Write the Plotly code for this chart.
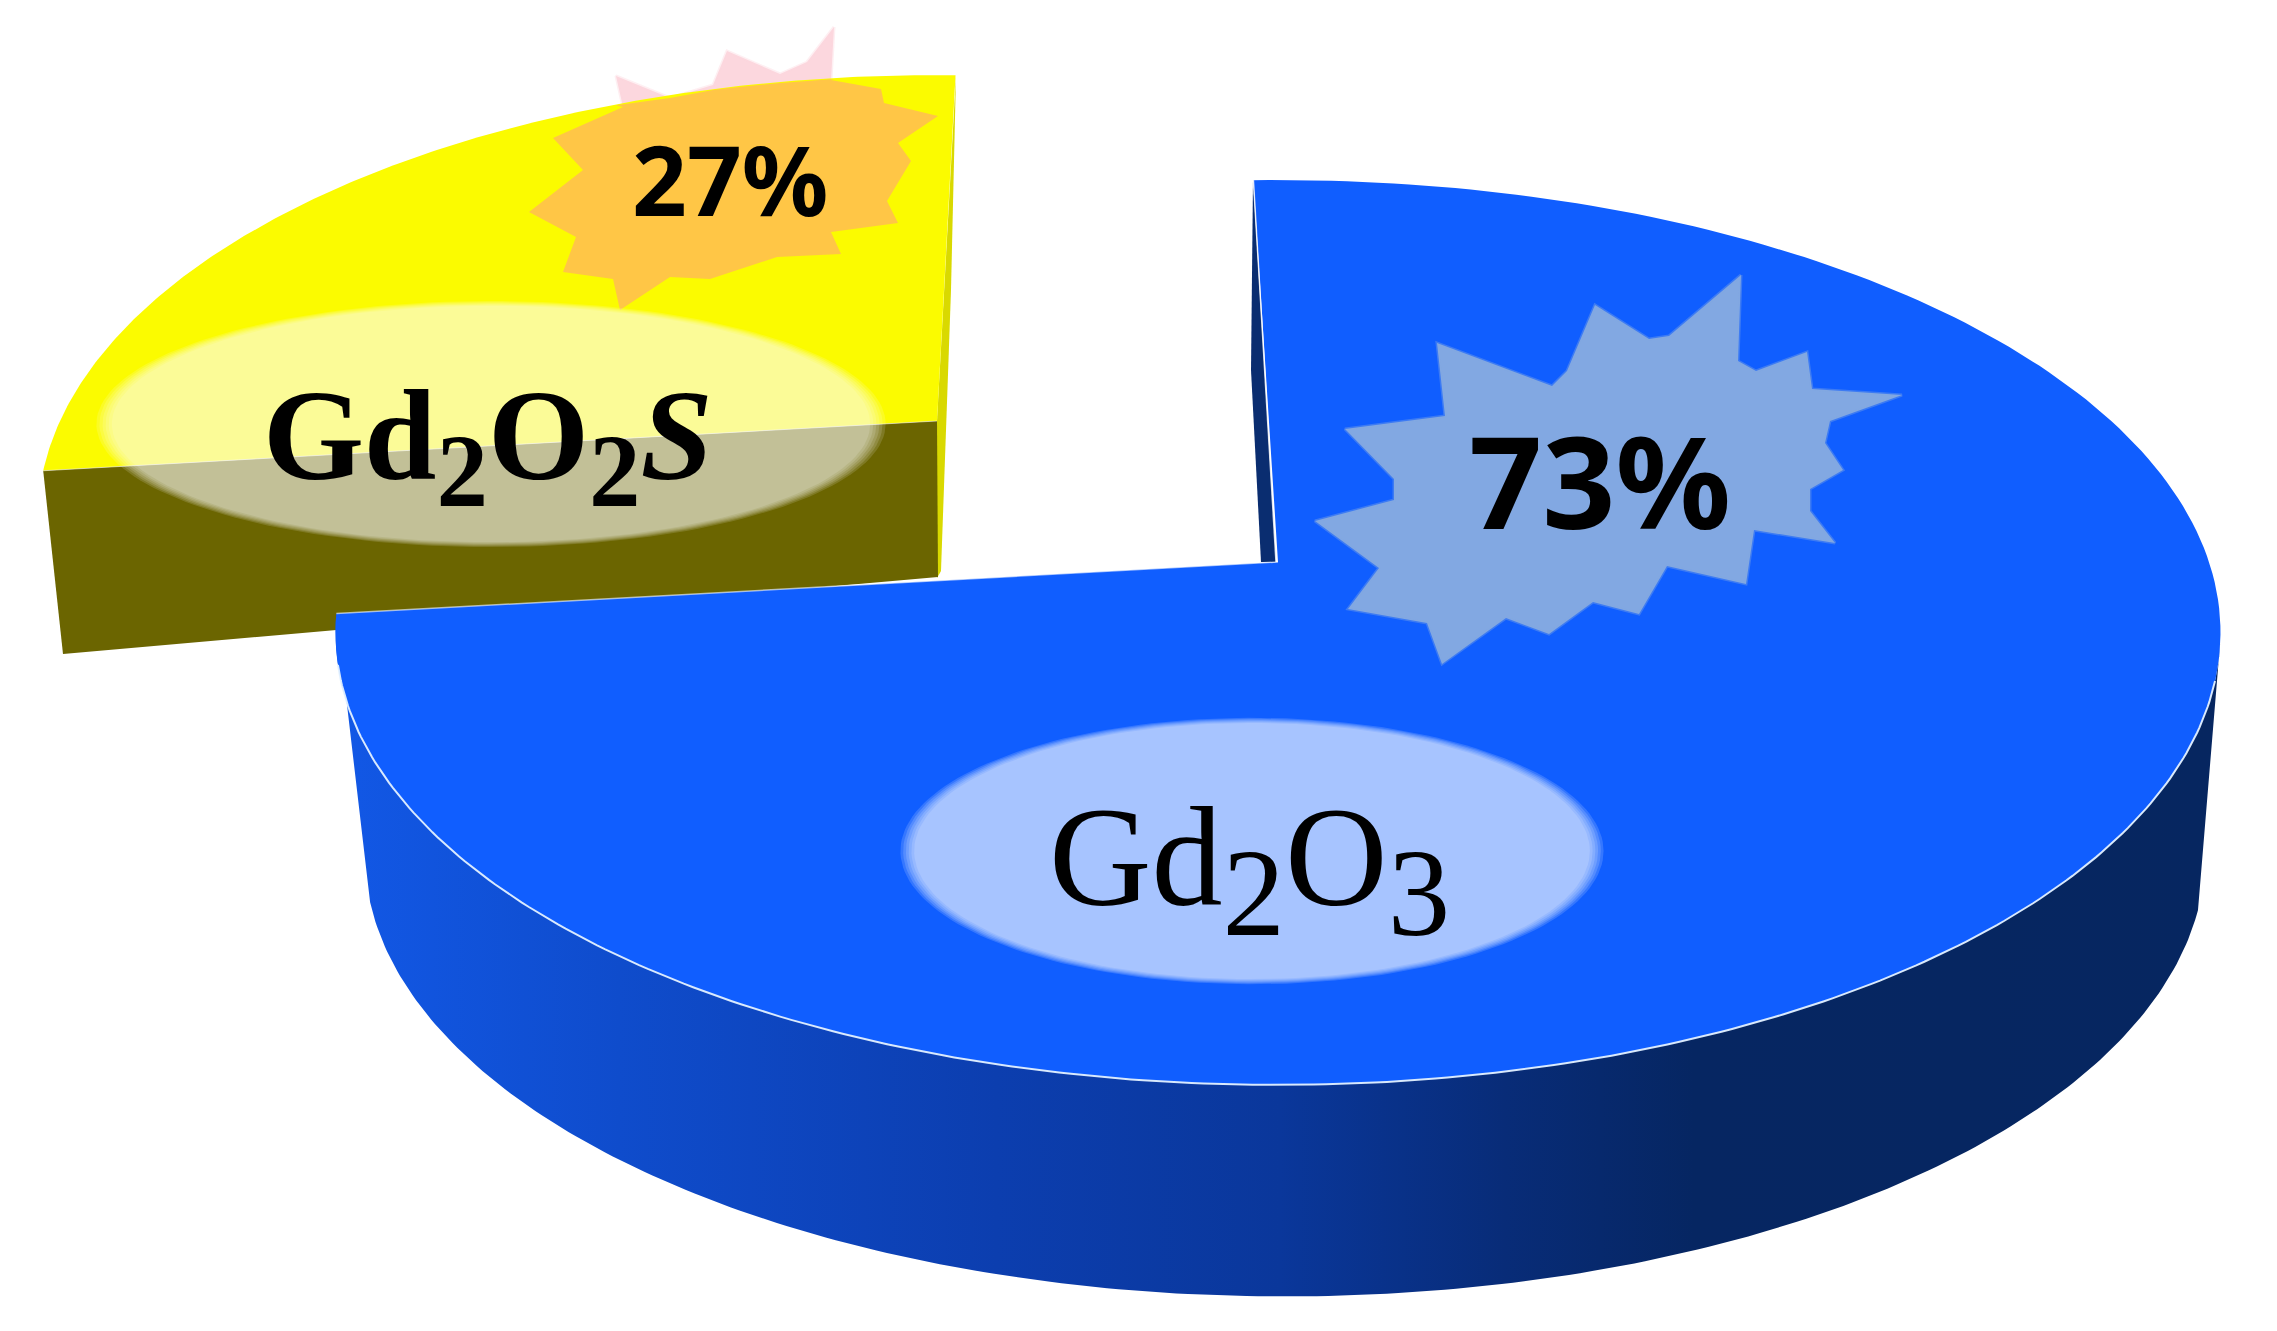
import numpy as np
import plotly.graph_objects as go

# ---- data ----
categories = ["Gd2O3", "Gd2O2S"]
values = [73, 27]
name_labels = [
    "Gd<sub><span style='font-size:125px'>2</span></sub>O<sub><span style='font-size:125px'>3</span></sub>",
    "<b>Gd<sub><span style='font-size:103px'>2</span></sub>O<sub><span style='font-size:103px'>2</span></sub><i>S</i></b>",
]

# ---- view / style ----
W, H = 2277, 1331
VIEW = 1.009            # angular stretch of the 3D view
BLUE_START = -1.75
YELLOW_START = -96.6
BLUE_TOP = dict(ax=1278, ay=562, a=931, k=441.5, p=0.1557)
BLUE_BOT = dict(ax=1285, ay=786, a=909, k=431, p=0.1557)
YEL_TOP = dict(ax=937, ay=421, a=877, k=422, p=0.22)

BLUE = "#105eff"
YELLOW = "#fbfb00"
OLIVE = "#6b6500"
ORANGE = "#ffc646"
PINK = "#fcd7de"

STAR_BLUE_X = [1741,1738,1756,1807,1812,1902,1830,1825,1843,1810,1810,1835,1754,1746,1667,1639,1593,1549,1506,1442,1427,1348,1379,1315,1394,1394,1345,1445,1437,1552,1567,1595,1649,1669]
STAR_BLUE_Y = [275,361,371,352,389,395,421,443,470,489,511,543,530,584,566,614,602,634,618,664,623,609,568,521,500,479,429,416,343,386,371,305,339,336]
STAR_YEL_X = [834,807,780,727,713,670,616,623,553,583,529,576,563,613,620,670,710,777,841,831,898,887,911,898,938,884,881,831]
STAR_YEL_Y = [27,62,74,51,85,98,76,107,138,170,212,237,272,279,310,277,279,257,254,232,223,201,161,143,116,103,89,80]


def rim(t0, t1, m, n=240):
    th = np.radians(np.linspace(t0, t1, n))
    u, v = np.sin(th), np.cos(th)
    d = 1 + m["p"] * v
    return m["ax"] + m["a"] * u / d, m["ay"] - m["k"] * v / d


def poly(x, y, color, lw=0, lc=None, **kw):
    return go.Scatter(x=list(x), y=list(y), mode="lines", fill="toself", fillcolor=color,
                      line=dict(width=lw, color=lc or color), hoverinfo="skip", **kw)


def line(x, y, color, lw):
    return go.Scatter(x=list(x), y=list(y), mode="lines", line=dict(width=lw, color=color), hoverinfo="skip")


def soft_ellipse(cx, cy, rx, ry, alpha, layers=6):
    out = []
    a = 1 - (1 - alpha) ** (1 / layers)
    th = np.linspace(0, 2 * np.pi, 180)
    for s in np.linspace(1.025, 0.985, layers):
        out.append(poly(cx + s * rx * np.cos(th), cy + s * ry * np.sin(th), f"rgba(255,255,255,{a:.4f})"))
    return out


blue_sweep = values[0] * 3.6 * VIEW
yel_sweep = values[1] * 3.6 * VIEW
blue_end = BLUE_START + blue_sweep
yel_end = YELLOW_START + yel_sweep

fig = go.Figure()

# pale part of the small burst, behind the slice
fig.add_trace(poly(np.r_[STAR_YEL_X, STAR_YEL_X[0]], np.r_[STAR_YEL_Y, STAR_YEL_Y[0]], PINK, lw=3,
                   lc="rgba(252,215,222,0.4)"))
# yellow slice
fig.add_trace(poly([956, 951, 941, 937, 937], [75, 290, 571, 578, 421], "#d9d900"))
yx, yy = rim(YELLOW_START, yel_end, YEL_TOP)
fig.add_trace(poly(np.r_[YEL_TOP["ax"], yx], np.r_[YEL_TOP["ay"], yy], YELLOW))
fig.add_trace(poly([yx[0], YEL_TOP["ax"], 938, 63], [yy[0], YEL_TOP["ay"], 577, 654], OLIVE))
fig.add_trace(line([yx[0], YEL_TOP["ax"]], [yy[0], YEL_TOP["ay"]], "rgba(255,255,255,0.5)", 1))
# orange part of the small burst, kept inside the slice
clip_y = np.maximum(STAR_YEL_Y, np.interp(STAR_YEL_X, yx, yy) + 1)
fig.add_trace(poly(np.r_[STAR_YEL_X, STAR_YEL_X[0]], np.r_[clip_y, clip_y[0]], ORANGE))
for tr in soft_ellipse(491, 424, 385, 120, 0.6):
    fig.add_trace(tr)

# blue slice: outer wall
tx, ty = rim(100, blue_end, BLUE_TOP)
bx, by = rim(106, 255, BLUE_BOT)
fig.add_trace(go.Scatter(
    x=list(np.r_[tx, bx[::-1]]), y=list(np.r_[ty, by[::-1]]), mode="lines", fill="toself",
    line=dict(width=0), hoverinfo="skip",
    fillgradient=dict(type="horizontal", start=337, stop=2222, colorscale=[
        [0.0, "rgb(18,88,230)"], [0.15, "rgb(15,76,204)"], [0.35, "rgb(12,62,175)"],
        [0.5, "rgb(10,55,155)"], [0.62, "rgb(8,44,120)"], [0.72, "rgb(6,38,98)"], [1.0, "rgb(6,38,96)"]]),
))
# blue slice: inner wall next to the gap
fig.add_trace(poly([1253, 1251, 1261, 1276], [180, 370, 562, 562], "#0a2d70"))
# blue slice: top face
fx, fy = rim(BLUE_START, blue_end, BLUE_TOP)
fig.add_trace(poly(np.r_[BLUE_TOP["ax"], fx], np.r_[BLUE_TOP["ay"], fy], BLUE))
rx, ry = rim(105, 257, BLUE_TOP)
fig.add_trace(line(rx, ry, "rgba(225,240,255,0.95)", 2))
fig.add_trace(line([fx[-1], BLUE_TOP["ax"]], [fy[-1], BLUE_TOP["ay"]], "rgba(255,255,255,0.6)", 1.5))
fig.add_trace(line([fx[0], BLUE_TOP["ax"] - 2], [fy[0], BLUE_TOP["ay"]], "rgba(255,255,255,0.8)", 1.5))
fig.add_trace(poly(np.r_[STAR_BLUE_X, STAR_BLUE_X[0]], np.r_[STAR_BLUE_Y, STAR_BLUE_Y[0]],
                   "#82a8e2", lw=3, lc="rgba(130,168,226,0.4)"))
for tr in soft_ellipse(1252, 851, 343, 130, 0.64):
    fig.add_trace(tr)


def note(x, y, text, size, family, xanchor="center"):
    fig.add_annotation(x=x, y=y, text=text, showarrow=False, xanchor=xanchor, yanchor="middle",
                       font=dict(size=size, family=family, color="#000000"))


note(1600, 479, f"<b>{values[0]}%</b>", 128, "Noto Sans")
note(730, 178, f"<b>{values[1]}%</b>", 96, "Noto Sans")
note(1249, 870, name_labels[0], 142, "Liberation Serif")
note(488, 445, name_labels[1], 130, "Liberation Serif")

fig.update_layout(
    width=W, height=H, autosize=False, showlegend=False,
    margin=dict(l=0, r=0, t=0, b=0), paper_bgcolor="white", plot_bgcolor="white",
    xaxis=dict(range=[0, W], visible=False, fixedrange=True),
    yaxis=dict(range=[H, 0], visible=False, fixedrange=True),
)
fig.write_html("out.html", post_script="document.body.style.margin='0';", config={"displayModeBar": False})
